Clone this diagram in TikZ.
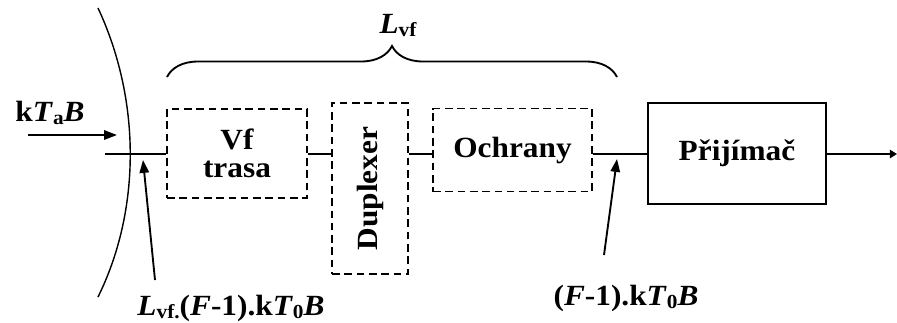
\documentclass[tikz,border=0pt]{standalone}
\usepackage{fontspec}
\setmainfont{Liberation Serif}[FakeStretch=1.07]
\usetikzlibrary{arrows.meta,decorations.pathreplacing}
% lowered, smaller index text
\newcommand\lsub[1]{\raisebox{-0.12em}{\fontsize{17}{17}\selectfont #1}}

\begin{document}
\begin{tikzpicture}[x=0.03cm,y=-0.03cm,
  every node/.style={font=\fontsize{25}{29}\selectfont\bfseries, inner sep=0pt},
  wire/.style={line width=1.6pt},
  thinwire/.style={line width=1.2pt},
  dbox/.style={draw, line width=1.3pt, dash pattern=on 6.5pt off 4pt, align=center},
  sbox/.style={draw, line width=1.6pt},
  pointer/.style={line width=1.6pt, -{Triangle[length=11pt,width=8pt]}},
  lbl/.style={anchor=base},
]
\useasboundingbox (0,0) rectangle (897,322);

% antenna aperture
\draw[thinwire] (98,8) .. controls (141,100) and (141,210) .. (98,297);

% blocks
\node[dbox, minimum width=140*0.03cm, minimum height=89*0.03cm,
      font=\fontsize{25}{27}\selectfont\bfseries] (vf) at (237,153.5) {\raisebox{-3pt}{Vf}\\trasa};
\node[dbox, minimum width=76*0.03cm, minimum height=171*0.03cm] (dup) at (370,188.5) {\rotatebox{90}{Duplexer}};
\node[dbox, minimum width=159*0.03cm, minimum height=83*0.03cm] (och) at (512.5,150) {Ochrany};
\node[sbox, minimum width=178*0.03cm, minimum height=101*0.03cm] (rx) at (737,153.5) {Přijímač};

% signal chain
\coordinate (in) at (105,154);
\coordinate (out) at (897,154);
\draw[wire] (in) -- (in -| vf.west);
\draw[wire] (vf.east |- in) -- (dup.west |- in);
\draw[wire] (dup.east |- in) -- (och.west |- in);
\draw[wire] (och.east |- in) -- (rx.west |- in);
\draw[wire, -{Triangle[length=6pt,width=7pt]}] (rx.east |- in) -- (out);

% incoming antenna noise
\coordinate (ta0) at (28,135);
\coordinate (ta1) at (117,135);
\draw[pointer] (ta0) -- (ta1);
\node[lbl] (ta) at (50,121) {k\textit{T}\lsub{a}\textit{B}};

% loss of the feeder section
\coordinate (b0) at (167,77);
\coordinate (b1) at (617,77);
\draw[wire, decorate, decoration={brace, amplitude=31*0.03cm, aspect=0.5}] (b0) -- (b1);
\node[lbl] (lvf) at (398,33) {\textit{L}\lsub{vf}};

% equivalent noise at the reference points
\coordinate (p0) at (155,280);
\coordinate (p1) at (143,160);
\draw[pointer] (p0) -- (p1);
\node[lbl] (n1) at (231,315) {\textit{L}\lsub{vf.}(\textit{F}-1).k\textit{T}\lsub{0}\textit{B}};

\coordinate (q0) at (604,255);
\coordinate (q1) at (617,159);
\draw[pointer] (q0) -- (q1);
\node[lbl] (n2) at (626,305) {(\textit{F}-1).k\textit{T}\lsub{0}\textit{B}};
\end{tikzpicture}
\end{document}
